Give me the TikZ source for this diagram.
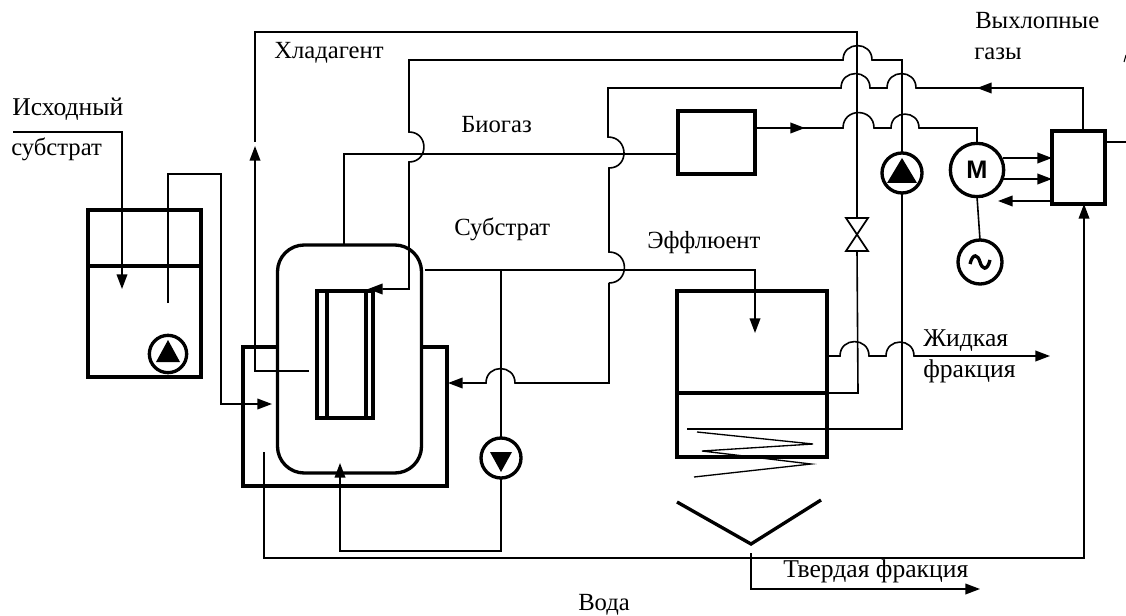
\documentclass[tikz,border=0pt]{standalone}
\usepackage{fontspec}
\setmainfont{Liberation Serif}
\newfontfamily\motorfont{Liberation Sans}
\usetikzlibrary{arrows.meta}
\tikzset{
    pipe/.style = {line width=1.2pt, line join=miter},
    flow/.style = {pipe, -{Triangle[length=11pt,width=8pt]}},
    wall/.style = {line width=2.5pt},
    hop/.style = {out=90, in=90, looseness=1.7},
    side/.style = {out=0, in=0, looseness=1.7},
    vesselbox/.style = {draw, wall, outer sep=0pt, inner sep=0pt},
    pumpring/.style = {draw, circle, wall, outer sep=0pt, inner sep=0pt},
    label/.style = {anchor=base west, inner sep=0pt, font=\fontsize{18.5}{20}\selectfont},
    biglabel/.style = {label, font=\fontsize{19.2}{20}\selectfont}
}

\begin{document}
\begin{tikzpicture}[x=0.75pt, y=-0.75pt]
    \useasboundingbox (0,0) rectangle (1126,616);

    % vessels
    \node[vesselbox, minimum width=84.75pt, minimum height=125.25pt] (feedtank) at (144.5,293.5) {};
    \node[vesselbox, minimum width=108pt, minimum height=171pt, rounded corners=20pt] (digester) at (349.5,359) {};
    \node[vesselbox, minimum width=42pt, minimum height=95.25pt] (hxouter) at (345,354.5) {};
    \node[vesselbox, minimum width=29.25pt, minimum height=95.25pt] (hxinner) at (346.5,354.5) {};
    \node[vesselbox, minimum width=57.75pt, minimum height=47.25pt] (gasholder) at (716.5,142.5) {};
    \node[vesselbox, minimum width=112.5pt, minimum height=124.5pt] (separator) at (752,374) {};
    \node[vesselbox, minimum width=39.75pt, minimum height=54.75pt, line width=3pt] (chp) at (1078.5,167.5) {};
    \draw[wall] (88,266) -- (201,266);
    \draw[wall] (677,393) -- (827,393);
    \draw[wall] (277,347) -- (243,347) -- (243,486) -- (447,486) -- (447,347) -- (421,347);
    \draw[wall] (677,502) -- (751,544) -- (821,500);

    % pumps and machines
    \node[pumpring, minimum size=28pt] (pumpfeed) at (168,354) {};
    \node[pumpring, minimum size=30pt] (pumpsub) at (501,458) {};
    \node[pumpring, minimum size=30pt] (pumpheat) at (902,173) {};
    \node[pumpring, minimum size=40pt, font=\motorfont\bfseries\fontsize{19}{19}\selectfont] (motor) at (977,170) {M};
    \node[pumpring, minimum size=33pt] (generator) at (980,262) {};
    \fill[shift={(168,354)}] (-12,8) -- (12,8) -- (0,-14) -- cycle;
    \fill[shift={(501,458)}] (-11,-6) -- (11,-6) -- (0,14) -- cycle;
    \fill[shift={(902,173)}] (-15,10) -- (15,10) -- (0,-15) -- cycle;
    \draw[wall, shift={(980,262)}] (-10,2) .. controls (-7,-10) and (-2,-7) .. (0,0) .. controls (2,7) and (7,10) .. (10,-2);

    % free ends
    \coordinate (feedin) at (13,132);
    \coordinate (feeddrop) at (122,289);
    \coordinate (feedpipe) at (168,303);
    \coordinate (coolstart) at (309,371);
    \coordinate (coolgap) at (255,142);
    \coordinate (valvetop) at (857,218);
    \coordinate (valvebot) at (857,251);
    \coordinate (watertail) at (264,452);
    \coordinate (coiltail) at (687,429);
    \coordinate (subout) at (425,270);
    \coordinate (solidtop) at (751,553);

    % valve
    \draw[pipe, line width=1.3pt] (846,218) -- (868,218) -- (846,251) -- (868,251) -- cycle;

    % substrate feed
    \draw[flow] (feedin) -- (122,132) -- (feeddrop);
    \draw[flow] (feedpipe) -- (168,174) -- (221,174) -- (221,404) -- (272,404);

    % coolant
    \draw[flow] (coolstart) -- (255,371) -- (255,146);
    \draw[pipe] (coolgap) -- (255,32) -- (857,32) -- (valvetop);
    \draw[pipe] (valvebot) -- (858,393) -- (separator.east |- 0,393);

    % heating loop
    \draw[flow] (pumpheat.north) -- (902,60) -- (872,60) to[hop] (843,60) -- (409,60) -- (409,132)
        to[side] (409,162) -- (409,289) -- (368,289);
    \draw[pipe] (pumpheat.south) -- (902,429) -- (coiltail);
    \draw[pipe, line width=1pt] (697,432) -- (813,444) -- (702,451) -- (811,464) -- (694,477);

    % biogas
    \draw[pipe] (344,245) -- (344,154) -- (gasholder.west |- 0,154);
    \draw[flow] (gasholder.east |- 0,128) -- (805,128);
    \draw[pipe] (803,128) -- (843,128) to[hop] (874,128) -- (891,128) to[hop] (919,128) -- (977,128) -- (motor.north);

    % exhaust heat
    \draw[flow] (1083,131) -- (1083,88) -- (977,88);
    \draw[pipe] (980,88) -- (916,88) to[hop] (887,88) -- (870,88) to[hop] (841,88) -- (608,88) -- (608,137)
        to[side] (609,168) -- (609,252) to[side] (609,283);
    \draw[flow] (609,283) -- (609,383) -- (515,383) to[hop] (486,383) -- (448,383);

    % substrate and effluent
    \draw[flow] (subout) -- (755,270) -- (755,333);
    \draw[flow] (pumpsub.south) -- (501,551) -- (340,551) -- (340,463);
    \draw[pipe] (501,270) -- (pumpsub.north);

    % separator outputs
    \draw[flow] (separator.east |- 0,356) -- (840,356) to[hop] (869,356) -- (886,356) to[hop] (914,356) -- (1050,356);
    \draw[flow] (solidtop) -- (751,589) -- (980,589);

    % chp unit
    \draw[flow] (1003,158) -- (chp.west |- 0,158);
    \draw[flow] (1003,179) -- (chp.west |- 0,179);
    \draw[flow] (chp.west |- 0,201) -- (998,201);
    \draw[pipe] (motor.south) -- (generator.north);
    \draw[pipe] (chp.east |- 0,142) -- (1126,142);
    \draw[flow] (watertail) -- (264,558) -- (1084,558) -- (chp.south -| 1084,0);
    \draw[pipe, line width=.8pt] (1124,62) -- (1126,55);

    % labels
    \node[biglabel] (feedlabela) at (12,116) {Исходный};
    \node[label] (feedlabelb) at (11,156) {субстрат};
    \node[label] (coolantlabel) at (274,59) {Хладагент};
    \node[label] (biogaslabel) at (461,133) {Биогаз};
    \node[label] (sublabel) at (454,236) {Субстрат};
    \node[label] (efflabel) at (647,249) {Эффлюент};
    \node[label] (exhaustlabela) at (975,29) {Выхлопные};
    \node[label] (exhaustlabelb) at (974,60) {газы};
    \node[biglabel] (liquidlabela) at (923,346) {Жидкая};
    \node[biglabel] (liquidlabelb) at (923,377) {фракция};
    \node[biglabel] (solidlabel) at (783,577) {Твердая фракция};
    \node[label] (waterlabel) at (578,610) {Вода};
\end{tikzpicture}
\end{document}
